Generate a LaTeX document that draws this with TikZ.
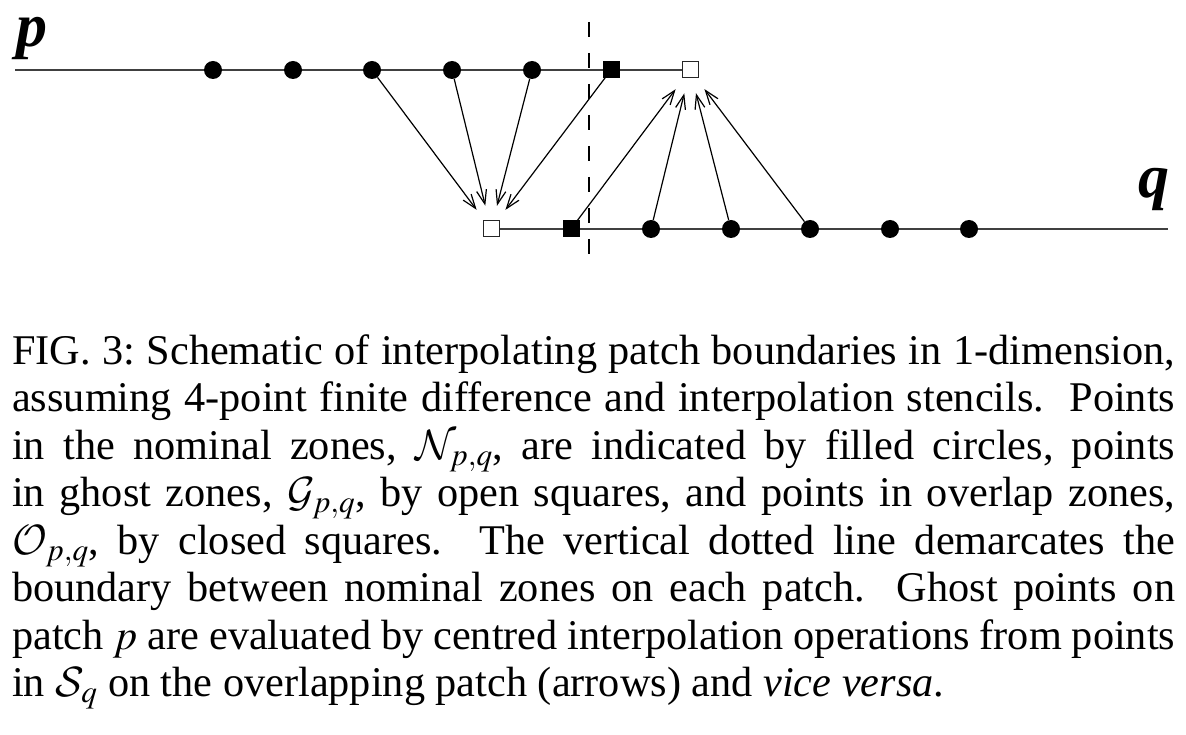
\documentclass[tikz,border=0pt]{standalone}
\usepackage{fix-cm}
\usepackage{mathptmx}
\DeclareMathAlphabet{\mathcal}{OMS}{cmsy}{m}{n}
\usepackage{fontspec}
\setmainfont{Liberation Serif}
\usetikzlibrary{arrows.meta,backgrounds}
\frenchspacing
\begin{document}
\begin{tikzpicture}[x=1pt,y=-1pt,
  hline/.style={draw=black!75, line width=1.4pt},
  dot/.style={circle, fill=black, inner sep=0pt, minimum size=18pt},
  closedsq/.style={rectangle, fill=black, inner sep=0pt, minimum size=17pt},
  opensq/.style={rectangle, draw=black!85, fill=white, line width=1pt, inner sep=0pt, minimum size=16pt},
  interp/.style={line width=1.2pt, -{Straight Barb[length=14pt,width=10pt,line width=1.2pt]}, shorten >=24pt},
  boundary/.style={line width=2.5pt, dash pattern=on 15pt off 16pt},
  patchlabel/.style={inner sep=0pt, font=\fontsize{62}{62}\selectfont\bfseries\itshape},
  capline/.style={inner sep=0pt, anchor=base west, font=\fontsize{42.3}{47}\selectfont}]
\useasboundingbox (0,0) rectangle (1186,735);
% patch p
\node[patchlabel, anchor=base west] (plabel) at (16,47) {p};
\coordinate (pstart) at (15,70);
\node[dot] (a1) at (213,70) {};
\node[dot] (a2) at (293,70) {};
\node[dot] (a3) at (372,70) {};
\node[dot] (a4) at (452,70) {};
\node[dot] (a5) at (532,70) {};
\node[closedsq] (ao) at (611,70) {};
\node[opensq] (ag) at (690,70) {};
% patch q
\node[patchlabel, anchor=base east] (qlabel) at (1170,198) {q};
\coordinate (qend) at (1168,229);
\node[opensq] (bg) at (491,229) {};
\node[closedsq] (bo) at (571,229) {};
\node[dot] (b1) at (651,229) {};
\node[dot] (b2) at (731,229) {};
\node[dot] (b3) at (810,229) {};
\node[dot] (b4) at (890,229) {};
\node[dot] (b5) at (969,229) {};
% boundary
\coordinate (dtop) at (589,22);
\coordinate (dbot) at (589,258);
\begin{pgfonlayer}{background}
\draw[hline] (pstart) -- (ag.center);
\draw[hline] (bg.center) -- (qend);
\draw[interp] (a3) -- (bg.center);
\draw[interp] (a4) -- (bg.center);
\draw[interp] (a5) -- (bg.center);
\draw[interp] (ao.center) -- (bg.center);
\draw[interp] (bo.center) -- (ag.center);
\draw[interp] (b1) -- (ag.center);
\draw[interp] (b2) -- (ag.center);
\draw[interp] (b3) -- (ag.center);
\draw[boundary] (dtop) -- (dbot);
\end{pgfonlayer}
% caption
\node[capline] (c1) at (12,364) {\makebox[1163pt][s]{FIG. 3: Schematic of interpolating patch boundaries in 1-dimension,}};
\node[capline] (c2) at (12,411.5) {\makebox[1163pt][s]{assuming 4-point finite difference and interpolation stencils.\ \ Points}};
\node[capline] (c3) at (12,459) {\makebox[1163pt][s]{in the nominal zones, $\mathcal{N}_{p,q}$, are indicated by filled circles, points}};
\node[capline] (c4) at (12,506.5) {\makebox[1163pt][s]{in ghost zones, $\mathcal{G}_{p,q}$, by open squares, and points in overlap zones,}};
\node[capline] (c5) at (12,554) {\makebox[1163pt][s]{$\mathcal{O}_{p,q}$, by closed squares.\ \ The vertical dotted line demarcates the}};
\node[capline] (c6) at (12,601.5) {\makebox[1163pt][s]{boundary between nominal zones on each patch.\ \ Ghost points on}};
\node[capline] (c7) at (12,649) {\makebox[1163pt][s]{patch $p$ are evaluated by centred interpolation operations from points}};
\node[capline] (c8) at (12,696.5) {in $\mathcal{S}_q$ on the overlapping patch (arrows) and \textit{vice versa}.};
\end{tikzpicture}
\end{document}
